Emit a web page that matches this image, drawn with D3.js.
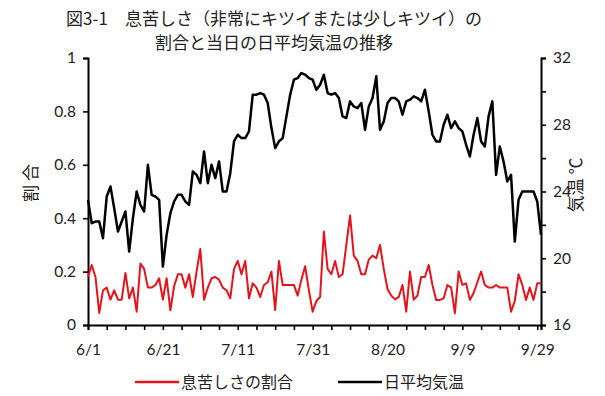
<!DOCTYPE html>
<html>
<head>
<meta charset="utf-8">
<script src="https://cdn.jsdelivr.net/npm/d3@7"></script>
<style>
  html, body { margin: 0; padding: 0; background: #fff; }
  svg { display: block; }
  .num { font-family: Lato, "Open Sans", sans-serif; font-size: 15.5px; fill: #222; }
  .jp { font-family: "Noto Sans CJK JP", sans-serif; fill: #222; }
</style>
</head>
<body>
<script>
// Days from 6/1 to 9/30
const startDate = new Date(2013, 5, 1);
const days = d3.timeDay.range(startDate, new Date(2013, 9, 1));

// Share of respondents reporting breathlessness (very / somewhat hard)
const breathRatio = [
  0.18, 0.225, 0.18, 0.045, 0.13, 0.14, 0.095, 0.13, 0.095, 0.095,
  0.195, 0.10, 0.14, 0.05, 0.23, 0.21, 0.14, 0.14, 0.15, 0.175,
  0.095, 0.175, 0.055, 0.145, 0.19, 0.19, 0.14, 0.19, 0.105, 0.20,
  0.285, 0.095, 0.14, 0.175, 0.18, 0.17, 0.14, 0.13, 0.10, 0.21,
  0.24, 0.19, 0.24, 0.10, 0.156, 0.14, 0.105, 0.15, 0.16, 0.20,
  0.056, 0.24, 0.15, 0.15, 0.15, 0.15, 0.11, 0.17, 0.22, 0.13,
  0.05, 0.09, 0.105, 0.35, 0.21, 0.19, 0.24, 0.18, 0.19, 0.30,
  0.41, 0.26, 0.24, 0.19, 0.19, 0.245, 0.26, 0.25, 0.30, 0.21,
  0.135, 0.11, 0.096, 0.105, 0.15, 0.05, 0.20, 0.095, 0.11, 0.18,
  0.18, 0.225, 0.15, 0.094, 0.094, 0.10, 0.15, 0.14, 0.044, 0.20,
  0.15, 0.156, 0.094, 0.12, 0.16, 0.20, 0.15, 0.14, 0.14, 0.15,
  0.14, 0.14, 0.14, 0.05, 0.09, 0.19, 0.15, 0.094, 0.14, 0.094,
  0.156, 0.156
];

// Daily mean temperature (°C)
const meanTemp = [
  23.5, 22.1, 22.2, 22.2, 21.2, 23.7, 24.3, 23.0, 21.6, 22.2,
  22.8, 20.4, 22.4, 24.0, 23.2, 22.8, 25.6, 23.8, 23.7, 23.5,
  19.5, 21.4, 22.7, 23.4, 23.8, 23.8, 23.4, 23.2, 25.2, 25.0,
  24.5, 26.4, 24.5, 25.6, 24.8, 25.8, 24.0, 24.0, 25.1, 27.0,
  27.4, 27.2, 27.2, 27.6, 29.8, 29.8, 29.9, 29.8, 29.3, 27.8,
  26.6, 27.0, 27.2, 28.5, 29.8, 30.7, 30.8, 31.1, 31.0, 30.8,
  30.7, 30.1, 30.4, 31.0, 29.9, 29.8, 29.9, 29.6, 28.5, 28.4,
  29.4, 29.1, 29.0, 29.3, 27.7, 29.1, 29.6, 30.9, 27.7, 28.2,
  29.3, 29.6, 29.6, 29.4, 28.6, 29.4, 29.5, 29.7, 29.6, 29.4,
  30.1, 28.8, 27.4, 27.0, 27.0, 28.0, 28.6, 27.8, 28.2, 27.8,
  27.6, 26.8, 26.1, 27.4, 28.4, 27.0, 26.7, 28.5, 29.4, 25.0,
  26.7, 25.8, 24.6, 25.0, 21.0, 23.5, 24.0, 24.0, 24.0, 24.0,
  23.4, 21.4
];

const leftTicks = [0, 0.2, 0.4, 0.6, 0.8, 1];
const rightTicks = [16, 18, 20, 22, 24, 26, 28, 30, 32];
const rightTickLabels = [16, 20, 24, 28, 32];
const xTickLabels = ["6/1", "6/21", "7/11", "7/31", "8/20", "9/9", "9/29"];

const titleLines = ["図3-1　息苦しさ（非常にキツイまたは少しキツイ）の", "割合と当日の日平均気温の推移"];
const seriesNames = ["息苦しさの割合", "日平均気温"];
const seriesColors = ["#e3141c", "#000000"];

const W = 605, H = 396;
const plot = { left: 88, right: 541, top: 58, bottom: 325 };

const svg = d3.select("body").append("svg").attr("width", W).attr("height", H);

const fmtMD = d3.timeFormat("%-m/%-d");
const x = d3.scaleTime().domain([days[0], days[days.length - 1]]).range([plot.left, plot.right]);
const yL = d3.scaleLinear().domain([0, 1]).range([plot.bottom, plot.top]);
const yR = d3.scaleLinear().domain([16, 32]).range([plot.bottom, plot.top]);

// Title
svg.append("g").selectAll("text").data(titleLines).join("text")
  .attr("class", "jp")
  .attr("x", 274).attr("y", (d, i) => 25 + i * 24)
  .attr("text-anchor", "middle")
  .style("font-size", "17px")
  .text(d => d);

function styleAxis(g) {
  g.select(".domain").attr("stroke-width", 2);
  g.selectAll(".tick line").attr("stroke-width", 1.6);
  g.selectAll("text").attr("class", "num").attr("font-family", null).attr("font-size", null);
}

// Left axis
svg.append("g").attr("transform", `translate(${plot.left},0)`)
  .call(d3.axisLeft(yL).tickValues(leftTicks).tickSize(5).tickPadding(7)
    .tickFormat(d => d === 0 || d === 1 ? d3.format("d")(d) : d3.format(".1f")(d)))
  .call(styleAxis);

// Right axis
svg.append("g").attr("transform", `translate(${plot.right},0)`)
  .call(d3.axisRight(yR).tickValues(rightTicks).tickSize(5).tickPadding(7)
    .tickFormat(d => rightTickLabels.includes(d) ? d : ""))
  .call(styleAxis);

// Bottom axis: a tick every 5 days, labels every 20 days
const xTickDays = days.filter((d, i) => i % 5 === 0).concat([days[days.length - 1]]);
svg.append("g").attr("transform", `translate(0,${plot.bottom})`)
  .call(d3.axisBottom(x).tickValues(xTickDays).tickSize(5).tickPadding(14)
    .tickFormat(d => xTickLabels.includes(fmtMD(d)) ? fmtMD(d) : ""))
  .call(styleAxis);

// Axis titles
svg.append("text").attr("class", "jp")
  .attr("transform", `translate(37,183) rotate(-90)`)
  .attr("text-anchor", "middle").style("font-size", "17px")
  .text("割 合");
svg.append("text").attr("class", "jp")
  .attr("transform", `translate(582,185) rotate(-90)`)
  .attr("text-anchor", "middle").style("font-size", "17px")
  .text("気温 ℃");

// Series lines
const lineRatio = d3.line().x((d, i) => x(days[i])).y(d => yL(d));
const lineTemp = d3.line().x((d, i) => x(days[i])).y(d => yR(d));

svg.append("path").datum(meanTemp)
  .attr("fill", "none").attr("stroke", seriesColors[1]).attr("stroke-width", 2.5)
  .attr("stroke-linejoin", "round").attr("d", lineTemp);
svg.append("path").datum(breathRatio)
  .attr("fill", "none").attr("stroke", seriesColors[0]).attr("stroke-width", 2)
  .attr("stroke-linejoin", "round").attr("d", lineRatio);

// Legend
const legendItems = [
  { name: seriesNames[0], color: seriesColors[0], x: 135 },
  { name: seriesNames[1], color: seriesColors[1], x: 338 }
];
const lg = svg.append("g").selectAll("g").data(legendItems).join("g")
  .attr("transform", d => `translate(${d.x},382)`);
lg.append("line").attr("x1", 0).attr("x2", 44).attr("y1", 0).attr("y2", 0)
  .attr("stroke", d => d.color).attr("stroke-width", 2.5);
lg.append("text").attr("class", "jp").attr("x", 46).attr("dy", "0.36em")
  .style("font-size", "16px").text(d => d.name);
</script>
</body>
</html>
